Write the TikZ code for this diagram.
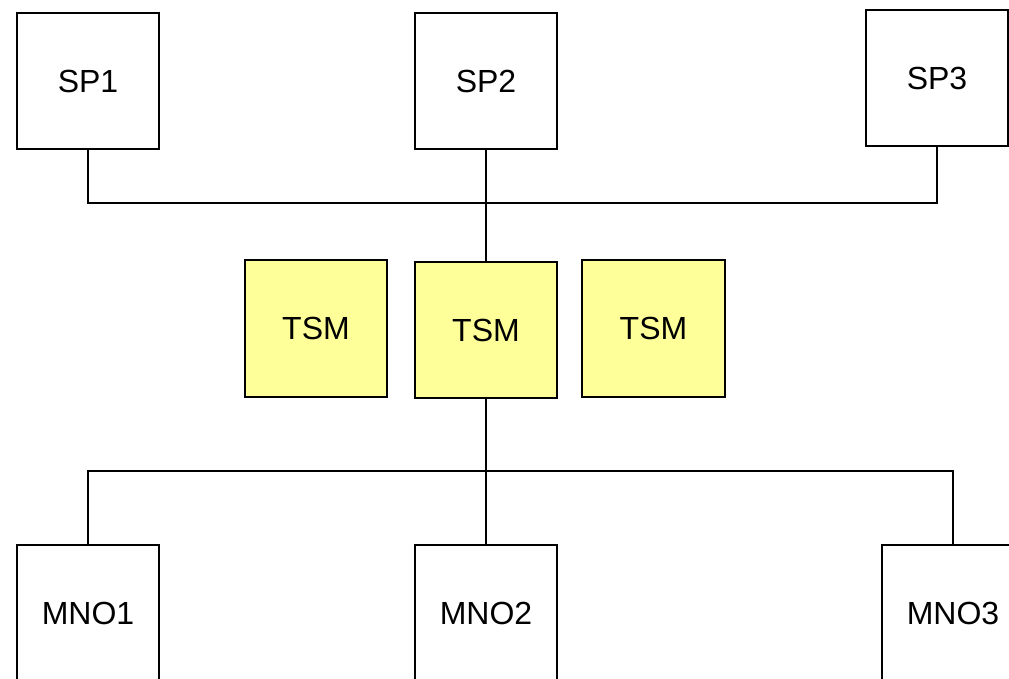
\documentclass[tikz,border=0pt]{standalone}
\usepackage{fontspec}
\setmainfont{Liberation Sans}
\tikzset{
    unitbox/.style={draw=black, line width=1.5pt, fill=white, minimum width=107pt, minimum height=102.5pt, inner sep=0pt, font=\fontsize{24}{28}\selectfont},
    tsmbox/.style={unitbox, fill=tsmyellow},
    wire/.style={line width=1.5pt, draw=black}
}
\definecolor{tsmyellow}{HTML}{FFFF99}
\begin{document}
\begin{tikzpicture}[x=0.75pt, y=-0.75pt]
    \useasboundingbox (0,0) rectangle (1009,678);
    \clip (0,0) rectangle (1009,678);

    \node[unitbox] (sp1) at (88,81) {SP1};
    \node[unitbox] (sp2) at (486,81) {SP2};
    \node[unitbox] (sp3) at (937,78) {SP3};

    \node[tsmbox] (tsm1) at (316,328.5) {TSM};
    \node[tsmbox] (tsm2) at (486,330) {TSM};
    \node[tsmbox] (tsm3) at (653.5,328.5) {TSM};

    \node[unitbox] (mno1) at (88,613) {MNO1};
    \node[unitbox] (mno2) at (486,613) {MNO2};
    \node[unitbox] (mno3) at (953,613) {MNO3};

    \coordinate (topjoin) at (486,203);
    \coordinate (botjoin) at (486,471);

    \draw[wire] (sp1.south) |- (topjoin) -| (sp3.south);
    \draw[wire] (sp2.south) -- (topjoin);
    \draw[wire] (topjoin) -- (tsm2.north);

    \draw[wire] (tsm2.south) -- (botjoin);
    \draw[wire] (mno1.north) |- (botjoin) -| (mno3.north);
    \draw[wire] (botjoin) -- (mno2.north);
\end{tikzpicture}
\end{document}
